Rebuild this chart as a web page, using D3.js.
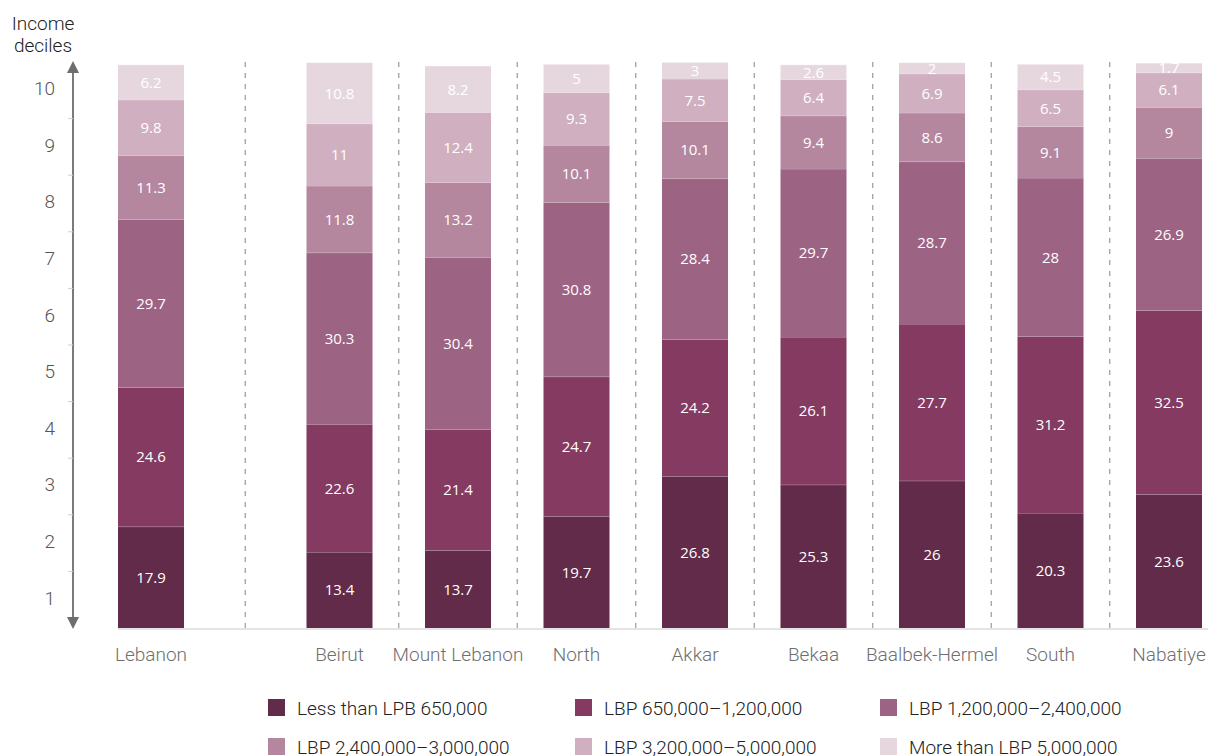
<!DOCTYPE html>
<html><head><meta charset="utf-8">
<script src="https://cdn.jsdelivr.net/npm/d3@7"></script>
<style>
html,body{margin:0;padding:0;background:#fff;}
svg{display:block;}
</style></head>
<body>
<svg id="chart" width="1208" height="756"></svg>
<script>
const regions = ["Lebanon","Beirut","Mount Lebanon","North","Akkar","Bekaa","Baalbek-Hermel","South","Nabatiye"];
const seriesNames = ["Less than LPB 650,000","LBP 650,000\u20131,200,000","LBP 1,200,000\u20132,400,000","LBP 2,400,000\u20133,000,000","LBP 3,200,000\u20135,000,000","More than LBP 5,000,000"];
const lessThan650k   = [17.9,13.4,13.7,19.7,26.8,25.3,26,  20.3,23.6];
const s650kTo1200k   = [24.6,22.6,21.4,24.7,24.2,26.1,27.7,31.2,32.5];
const s1200kTo2400k  = [29.7,30.3,30.4,30.8,28.4,29.7,28.7,28,  26.9];
const s2400kTo3000k  = [11.3,11.8,13.2,10.1,10.1,9.4, 8.6, 9.1, 9];
const s3200kTo5000k  = [9.8, 11,  12.4,9.3, 7.5, 6.4, 6.9, 6.5, 6.1];
const moreThan5000k  = [6.2, 10.8,8.2, 5,   3,   2.6, 2,   4.5, 1.7];
const decileTicks = [1,2,3,4,5,6,7,8,9,10];
const colors = ["#622b49","#843a61","#9c6383","#b4879f","#cfafc0","#e6d7df"];

const allSeries = [lessThan650k,s650kTo1200k,s1200kTo2400k,s2400kTo3000k,s3200kTo5000k,moreThan5000k];
const rows = regions.map((r,i)=>{
  const o = {region:r};
  seriesNames.forEach((s,j)=>o[s]=allSeries[j][i]);
  return o;
});
const stacked = d3.stack().keys(seriesNames)(rows);

const svg = d3.select("#chart");
const y = d3.scaleLinear().domain([0,100]).range([628,62]);
const xr = d3.scalePoint().domain(regions.slice(1)).range([339.5,1169]);
const xc = r => r==="Lebanon" ? 151 : xr(r);
const bw = 66;
const FS = 19;

svg.append("defs").append("clipPath").attr("id","clip")
  .append("rect").attr("x",0).attr("y",y(100)+0.5).attr("width",1208).attr("height",628-y(100));

// dashed dividers
const divs = [ (xc("Lebanon")+xc("Beirut"))/2 ];
for(let i=1;i<regions.length-1;i++) divs.push((xc(regions[i])+xc(regions[i+1]))/2);
svg.append("g").selectAll("line").data(divs).join("line")
  .attr("x1",d=>d).attr("x2",d=>d).attr("y1",y(100)).attr("y2",628)
  .attr("stroke","#9a9a9a").attr("stroke-width",1.2).attr("stroke-dasharray","5,6");

// baseline
svg.append("line").attr("x1",xc("Lebanon")-bw/2).attr("x2",1208).attr("y1",629).attr("y2",629)
  .attr("stroke","#e4e4e4").attr("stroke-width",2);

// bars
const g = svg.append("g").attr("clip-path","url(#clip)");
stacked.forEach((layer,j)=>{
  const lg = g.append("g");
  lg.selectAll("rect").data(layer).join("rect")
    .attr("x",d=>xc(d.data.region)-bw/2).attr("width",bw)
    .attr("y",d=>y(d[1])).attr("height",d=>y(d[0])-y(d[1]))
    .attr("fill",colors[j]);
  lg.selectAll("line").data(layer).join("line")
    .attr("x1",d=>xc(d.data.region)-bw/2).attr("x2",d=>xc(d.data.region)+bw/2)
    .attr("y1",d=>y(d[1])).attr("y2",d=>y(d[1]))
    .attr("stroke","#fff").attr("stroke-opacity",0.35).attr("stroke-width",1);
  lg.selectAll("text").data(layer).join("text")
    .attr("x",d=>xc(d.data.region)).attr("y",d=>(y(d[0])+y(d[1]))/2)
    .attr("dy","0.36em").attr("text-anchor","middle")
    .attr("font-family","'Liberation Sans Narrow','Open Sans',sans-serif")
    .attr("font-size",15).attr("fill","#fff")
    .text(d=>d[1]-d[0]>0 ? String(+(d[1]-d[0]).toFixed(1)) : "");
});

// y axis
const ax = svg.append("g");
ax.append("line").attr("x1",73).attr("x2",73).attr("y1",70).attr("y2",620).attr("stroke","#7a7a7a").attr("stroke-width",2);
ax.append("path").attr("d","M67,73 L73,61 L79,73 Z").attr("fill","#6e6e6e");
ax.append("path").attr("d","M67,617 L73,629 L79,617 Z").attr("fill","#6e6e6e");
ax.selectAll("line.t").data(d3.range(10,100,10)).join("line").attr("class","t")
  .attr("x1",68).attr("x2",73).attr("y1",d=>y(d)).attr("y2",d=>y(d))
  .attr("stroke","#cfcfcf").attr("stroke-width",1);
ax.selectAll("text").data(decileTicks).join("text")
  .attr("x",55).attr("y",d=>y(d*10-5)-2).attr("dy","0.36em").attr("text-anchor","end")
  .attr("font-family","Roboto,sans-serif").attr("font-weight",300).attr("font-size",FS).attr("fill","#555")
  .text(d=>d);
svg.append("text").attr("x",43).attr("y",30).attr("text-anchor","middle")
  .attr("font-family","Roboto,sans-serif").attr("font-weight",300).attr("font-size",FS).attr("fill","#222")
  .selectAll("tspan").data(["Income","deciles"]).join("tspan")
  .attr("x",43).attr("dy",(d,i)=>i?22:0).text(d=>d);

// category labels
svg.append("g").selectAll("text").data(regions).join("text")
  .attr("x",d=>xc(d)).attr("y",661).attr("text-anchor","middle")
  .attr("font-family","Roboto,sans-serif").attr("font-weight",300).attr("font-size",FS).attr("fill","#6f6f6f")
  .text(d=>d);

// legend
const lcol = [268,575,880];
const lrow = [699,738];
const leg = svg.append("g").selectAll("g").data(seriesNames).join("g")
  .attr("transform",(d,i)=>`translate(${lcol[i%3]},${lrow[Math.floor(i/3)]})`);
leg.append("rect").attr("width",17).attr("height",17).attr("fill",(d,i)=>colors[i]);
leg.append("text").attr("x",29).attr("y",9).attr("dy","0.36em")
  .attr("font-family","Roboto,sans-serif").attr("font-weight",300).attr("font-size",FS).attr("fill","#222")
  .text(d=>d);
</script>
</body></html>
